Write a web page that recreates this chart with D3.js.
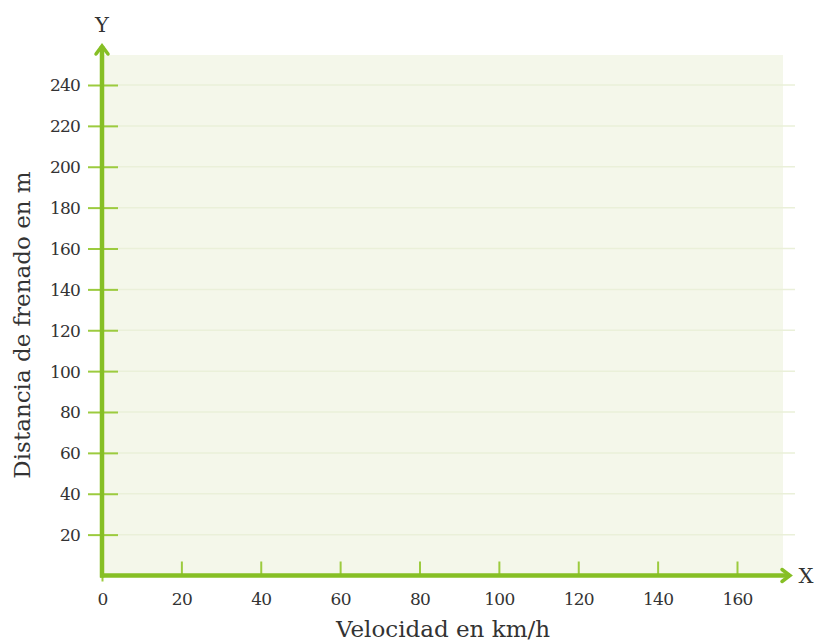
<!DOCTYPE html>
<html><head><meta charset="utf-8">
<script src="https://cdn.jsdelivr.net/npm/d3@7"></script>
<style>body{margin:0;background:#fff}svg{display:block}</style>
</head><body>
<script>
const xTicks = [0, 20, 40, 60, 80, 100, 120, 140, 160];
const yTicks = [20, 40, 60, 80, 100, 120, 140, 160, 180, 200, 220, 240];
const xTitle = "Velocidad en km/h";
const yTitle = "Distancia de frenado en m";
const xAxisName = "X", yAxisName = "Y";

const W = 816, H = 641;
const svg = d3.select("body").append("svg").attr("width", W).attr("height", H);
const x = d3.scaleLinear().domain([0, 160]).range([102, 737]);
const y = d3.scaleLinear().domain([0, 240]).range([575.5, 85]);
const green = "#86bf25", tickGreen = "#9ccb3f";
const font = "'DejaVu Serif', serif";

// background
svg.append("rect").attr("x", x(0)).attr("y", 55).attr("width", 783 - x(0)).attr("height", y(0) - 55)
  .attr("fill", "#f4f7ea");

// gridlines
svg.append("g").selectAll("line").data(yTicks).join("line")
  .attr("x1", x(0)).attr("x2", 795).attr("y1", d => y(d)).attr("y2", d => y(d))
  .attr("stroke", "#eaf0d9").attr("stroke-width", 1.5);

// y axis ticks
const yAxis = d3.axisLeft(y).tickValues(yTicks).tickSize(0).tickPadding(0);
const gy = svg.append("g").attr("transform", `translate(${x(0)},0)`).call(yAxis);
gy.select(".domain").remove();
gy.selectAll(".tick line").attr("x1", -14).attr("x2", 16).attr("stroke", tickGreen).attr("stroke-width", 2);
gy.selectAll(".tick text").attr("x", -22).attr("font-family", font).attr("font-size", 17)
  .attr("fill", "#333").attr("dy", "0.35em").attr("letter-spacing", "-0.8");

// x axis ticks
const xAxis = d3.axisBottom(x).tickValues(xTicks).tickSize(0);
const gx = svg.append("g").attr("transform", `translate(0,${y(0)})`).call(xAxis);
gx.select(".domain").remove();
gx.selectAll(".tick line").attr("y1", 0).attr("y2", d => d === 0 ? 6 : -14).attr("stroke", tickGreen).attr("stroke-width", 2);
gx.selectAll(".tick text").attr("y", 24).attr("dy", "0.35em").attr("font-family", font).attr("font-size", 17)
  .attr("fill", "#333").attr("letter-spacing", "-0.8");

// axis lines with arrows
svg.append("line").attr("x1", x(0)).attr("x2", x(0)).attr("y1", y(0) + 2).attr("y2", 46)
  .attr("stroke", green).attr("stroke-width", 4.5);
svg.append("path").attr("d", `M${x(0) - 6},${54} L${x(0)},${46} L${x(0) + 6},${54}`)
  .attr("fill", "none").attr("stroke", green).attr("stroke-width", 3.5).attr("stroke-linecap", "round");
svg.append("line").attr("x1", x(0) - 2).attr("x2", 790).attr("y1", y(0)).attr("y2", y(0))
  .attr("stroke", green).attr("stroke-width", 4.5);
svg.append("path").attr("d", `M${782},${y(0) - 6} L${790},${y(0)} L${782},${y(0) + 6}`)
  .attr("fill", "none").attr("stroke", green).attr("stroke-width", 3.5).attr("stroke-linecap", "round");

// axis names
svg.append("text").attr("x", x(0)).attr("y", 32).attr("text-anchor", "middle")
  .attr("font-family", font).attr("font-size", 21).attr("fill", "#333").text(yAxisName);
svg.append("text").attr("x", 806).attr("y", y(0) + 7).attr("text-anchor", "middle")
  .attr("font-family", font).attr("font-size", 21).attr("fill", "#333").text(xAxisName);

// titles
svg.append("text").attr("x", 443).attr("y", 637).attr("text-anchor", "middle")
  .attr("font-family", font).attr("font-size", 23).attr("fill", "#333").text(xTitle);
svg.append("text").attr("transform", "translate(30,325) rotate(-90)").attr("text-anchor", "middle")
  .attr("font-family", font).attr("font-size", 23).attr("fill", "#333").text(yTitle);
</script>
</body></html>
